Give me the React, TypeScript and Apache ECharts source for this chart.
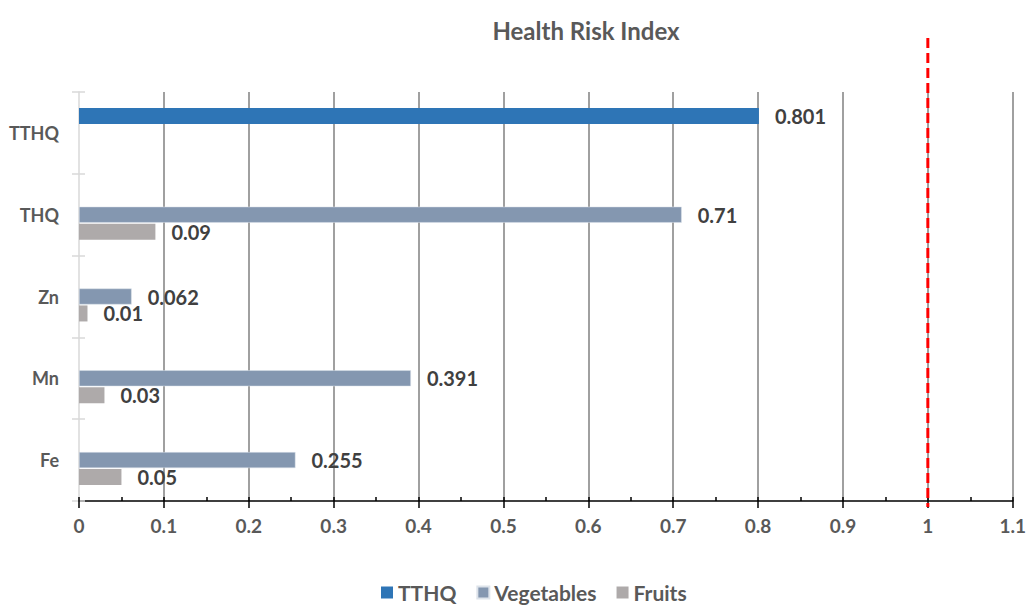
import React, { useEffect, useRef } from "react";
import * as echarts from "echarts";

const categories = ["Fe", "Mn", "Zn", "THQ", "TTHQ"];
const tthqValues = [null, null, null, null, 0.801];
const vegetableValues = [0.255, 0.391, 0.062, 0.71, null];
const fruitValues = [0.05, 0.03, 0.01, 0.09, null];
const xTicks = [0, 0.1, 0.2, 0.3, 0.4, 0.5, 0.6, 0.7, 0.8, 0.9, 1, 1.1];
const limitValue = 1;

const FONT = "Lato, 'Open Sans', sans-serif";
const GRID = { left: 79, right: 11, top: 92, bottom: 107 };

export default function App() {
  const ref = useRef<HTMLDivElement>(null);
  useEffect(() => {
    if (!ref.current) return;
    const chart = echarts.init(ref.current, null, { renderer: "svg" });
    const label = {
      show: true,
      position: "right",
      distance: 16,
      fontFamily: FONT,
      fontWeight: "bold",
      fontSize: 20,
      color: "#404040",
    };
    chart.setOption({
      animation: false,
      title: {
        text: "Health Risk Index",
        left: 581,
        top: 13,
        textAlign: "center",
        textStyle: { fontFamily: FONT, fontWeight: "bold", fontSize: 24, color: "#595959" },
      },
      legend: {
        data: ["TTHQ", "Vegetables", "Fruits"],
        bottom: 0,
        left: 376,
        itemWidth: 12,
        itemHeight: 12,
        itemGap: 20,
        icon: "rect",
        textStyle: { fontFamily: FONT, fontWeight: "bold", fontSize: 21, color: "#595959" },
      },
      grid: { ...GRID, containLabel: false },
      xAxis: [
        {
          type: "value",
          min: xTicks[0],
          max: xTicks[xTicks.length - 1],
          interval: 0.1,
          axisLine: { show: true, lineStyle: { color: "#000", width: 1.5 } },
          axisTick: { show: true, inside: false, length: 7, lineStyle: { color: "#000", width: 1.5 } },
          splitLine: { show: true, showMinLine: false, lineStyle: { color: "#808080", width: 1.5 } },
          axisLabel: {
            margin: 15,
            fontFamily: FONT,
            fontWeight: "bold",
            fontSize: 19,
            color: "#595959",
            formatter: (v: number) => String(Math.round(v * 10) / 10),
          },
        },
        {
          type: "value",
          position: "bottom",
          min: xTicks[0],
          max: xTicks[xTicks.length - 1],
          interval: 0.1,
          axisLine: { show: false },
          axisTick: { show: true, inside: true, length: 4, lineStyle: { color: "#000", width: 1.5 } },
          minorTick: { show: true, splitNumber: 2, length: 4, lineStyle: { color: "#000", width: 1.5 } },
          splitLine: { show: false },
          axisLabel: { show: false },
        },
      ],
      yAxis: [
        {
          type: "category",
          data: categories,
          axisLine: { show: true, lineStyle: { color: "#d9d9d9", width: 1.5 } },
          axisTick: { show: true, inside: false, length: 7, lineStyle: { color: "#d9d9d9", width: 1.5 } },
          axisLabel: { margin: 20, fontFamily: FONT, fontWeight: "bold", fontSize: 18, color: "#595959" },
        },
        {
          type: "category",
          position: "left",
          data: categories,
          axisLine: { show: false },
          axisTick: { show: true, inside: true, length: 6, lineStyle: { color: "#d9d9d9", width: 1.5 } },
          axisLabel: { show: false },
        },
      ],
      series: [
        {
          name: "TTHQ",
          type: "bar",
          data: tthqValues,
          barWidth: 16,
          barGap: "6%",
          itemStyle: { color: "#2E75B6" },
          label,
        },
        {
          name: "Vegetables",
          type: "bar",
          data: vegetableValues,
          barWidth: 16,
          barGap: "6%",
          itemStyle: { color: "#8497B0", borderColor: "#dde3ea", borderWidth: 0.5 },
          label,
        },
        {
          name: "Fruits",
          type: "bar",
          data: fruitValues,
          barWidth: 16,
          barGap: "6%",
          itemStyle: { color: "#AEAAAA" },
          label,
        },
      ],
    });
    const px = chart.convertToPixel({ xAxisIndex: 0 }, limitValue) as number;
    const bottomY = 608 - GRID.bottom;
    chart.setOption({
      graphic: [
        {
          type: "line",
          shape: { x1: px, y1: 38, x2: px, y2: bottomY + 6 },
          style: { stroke: "#FF0000", lineWidth: 3, lineDash: [10, 5] },
          z: 100,
        },
      ],
    });
    return () => chart.dispose();
  }, []);
  return (
    <div
      ref={ref}
      style={{ position: "fixed", left: 0, top: 0, width: 1029, height: 608, background: "#fff" }}
    />
  );
}
